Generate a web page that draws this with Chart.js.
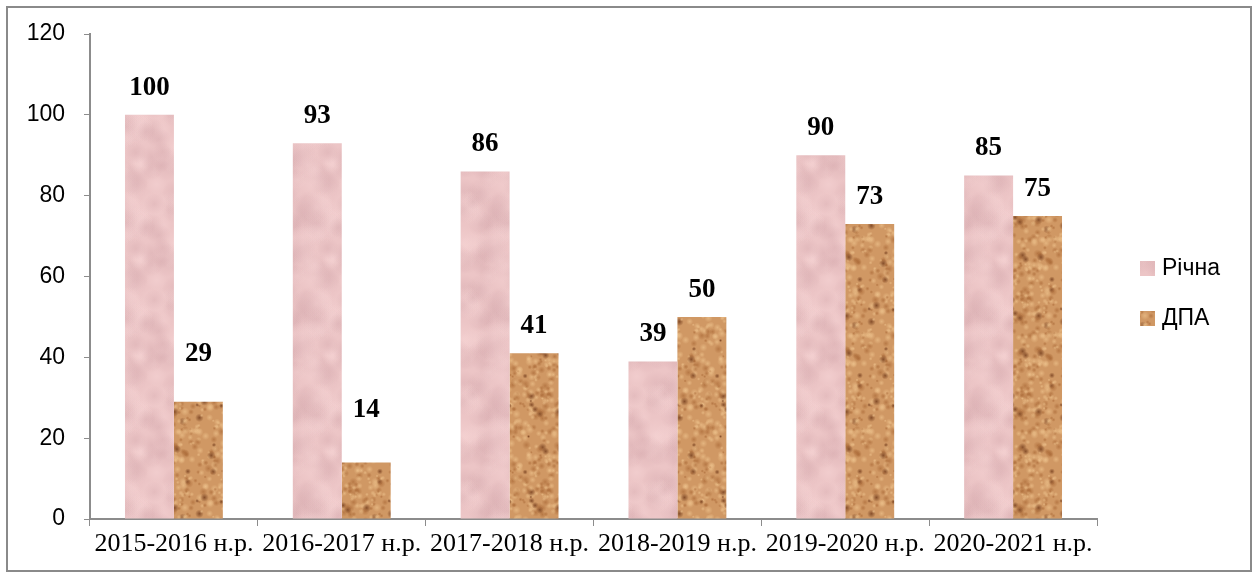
<!DOCTYPE html>
<html>
<head>
<meta charset="utf-8">
<script src="https://cdn.jsdelivr.net/npm/chart.js@4/dist/chart.umd.min.js"></script>
<style>
html,body{margin:0;padding:0;background:#fff;}
#wrap{width:1258px;height:578px;position:relative;}
</style>
</head>
<body>
<div id="wrap"><canvas id="c" width="1258" height="578"></canvas></div>
<script>
const categories = ["2015-2016 н.р.", "2016-2017 н.р.", "2017-2018 н.р.", "2018-2019 н.р.", "2019-2020 н.р.", "2020-2021 н.р."];
const seriesNames = ["Річна", "ДПА"];
const richna = [100, 93, 86, 39, 90, 85];
const dpa = [29, 14, 41, 50, 73, 75];
const yTicks = [0, 20, 40, 60, 80, 100, 120];

// deterministic texture generator (styling only)
function lcg(seed){ let s = seed >>> 0; return function(){ s = (s * 1664525 + 1013904223) >>> 0; return s / 4294967296; }; }
function makePattern(kind){
  const size = 96;
  const cv = document.createElement('canvas');
  cv.width = size; cv.height = size;
  const g = cv.getContext('2d');
  const rnd = lcg(kind === 'pink' ? 12345 : 67890);
  function blob(x, y, r, rgb, a){
    for (let dx=-size; dx<=size; dx+=size) for (let dy=-size; dy<=size; dy+=size){
      const gr = g.createRadialGradient(x+dx, y+dy, 0, x+dx, y+dy, r);
      gr.addColorStop(0, 'rgba(' + rgb + ',' + a + ')');
      gr.addColorStop(1, 'rgba(' + rgb + ',0)');
      g.fillStyle = gr;
      g.beginPath(); g.arc(x+dx, y+dy, r, 0, Math.PI*2); g.fill();
    }
  }
  if (kind === 'pink') {
    g.fillStyle = 'rgb(236,197,198)';
    g.fillRect(0,0,size,size);
    for (let i = 0; i < 70; i++) {
      const x = rnd()*size, y = rnd()*size, r = 6 + rnd()*12;
      const dark = rnd() < 0.5;
      if (dark) blob(x, y, r, '214,170,174', 0.45);
      else blob(x, y, r, '246,212,212', 0.5);
    }
  } else {
    g.fillStyle = 'rgb(208,152,100)';
    g.fillRect(0,0,size,size);
    for (let i = 0; i < 320; i++) {
      const x = rnd()*size, y = rnd()*size, r = 1.5 + rnd()*3;
      const t = rnd();
      if (t < 0.38) blob(x, y, r, '170,105,55', 0.65);
      else if (t < 0.45) blob(x, y, r, '115,60,28', 0.8);
      else blob(x, y, r, '236,192,138', 0.7);
    }
  }
  return g.createPattern(cv, 'repeat');
}
const pinkPat = makePattern('pink');
const brownPat = makePattern('brown');

const axisColor = '#8c8c8c';

const borderPlugin = {
  id: 'outerBorder',
  beforeDraw(chart){
    const ctx = chart.ctx;
    ctx.save();
    ctx.fillStyle = '#fff';
    ctx.fillRect(0,0,chart.width,chart.height);
    ctx.strokeStyle = '#8a8a8a';
    ctx.lineWidth = 2;
    ctx.strokeRect(7,7,1244,564);
    ctx.restore();
  }
};

const valueLabels = {
  id: 'valueLabels',
  afterDatasetsDraw(chart, args, opts){
    const ctx = chart.ctx;
    ctx.save();
    ctx.font = 'bold 27px "Liberation Serif", "Times New Roman", serif';
    ctx.fillStyle = '#000';
    ctx.textAlign = 'center';
    ctx.textBaseline = 'middle';
    chart.data.datasets.forEach((ds, di) => {
      const meta = chart.getDatasetMeta(di);
      meta.data.forEach((bar, i) => {
        const lift = opts.offset + ((opts.extra[di] && opts.extra[di][i]) || 0);
        ctx.fillText(String(ds.data[i]), bar.x, bar.y - lift);
      });
    });
    ctx.restore();
  }
};

const customLegend = {
  id: 'customLegend',
  afterDraw(chart, args, opts){
    const ctx = chart.ctx;
    ctx.save();
    ctx.font = '23px "Liberation Sans", Arial, sans-serif';
    ctx.textBaseline = 'middle';
    ctx.textAlign = 'left';
    chart.data.datasets.forEach((ds, i) => {
      const y = opts.y + i * opts.gap;
      ctx.fillStyle = ds.backgroundColor;
      ctx.fillRect(opts.x, y - 7, 15, 15);
      ctx.fillStyle = '#000';
      ctx.fillText(ds.label, opts.x + 22, y + 1);
    });
    ctx.restore();
  }
};

new Chart(document.getElementById('c'), {
  type: 'bar',
  data: {
    labels: categories,
    datasets: [
      { label: seriesNames[0], data: richna, backgroundColor: pinkPat, borderWidth: 0 },
      { label: seriesNames[1], data: dpa, backgroundColor: brownPat, borderWidth: 0 }
    ]
  },
  plugins: [borderPlugin, valueLabels, customLegend],
  options: {
    responsive: false,
    animation: false,
    devicePixelRatio: 1,
    layout: { padding: { top: 34, left: 0, right: 161, bottom: 0 } },
    datasets: { bar: { categoryPercentage: 0.583, barPercentage: 1.0 } },
    plugins: {
      legend: { display: false },
      tooltip: { enabled: false },
      valueLabels: { offset: 27, extra: [[0,0,0,0,0,0],[21,25,0,0,0,0]] },
      customLegend: { x: 1140, y: 268, gap: 50 }
    },
    scales: {
      x: {
        grid: { display: true, drawOnChartArea: false, drawTicks: true, tickLength: 7, color: axisColor, offset: true },
        border: { display: true, color: axisColor, width: 2 },
        ticks: { color: '#000', font: { family: '"Liberation Serif", "Times New Roman", serif', size: 26 }, padding: 3, maxRotation: 0, minRotation: 0, autoSkip: false },
        afterFit(scale){ scale.height = 59; }
      },
      y: {
        min: 0, max: 120,
        afterBuildTicks(scale){ scale.ticks = yTicks.map(v => ({ value: v })); },
        grid: { display: true, drawOnChartArea: false, drawTicks: true, tickLength: 6, color: axisColor },
        border: { display: true, color: axisColor, width: 2 },
        ticks: { color: '#000', font: { family: '"Liberation Sans", Arial, sans-serif', size: 23 }, padding: 19 },
        afterFit(scale){ scale.width = 90; }
      }
    }
  }
});
</script>
</body>
</html>
